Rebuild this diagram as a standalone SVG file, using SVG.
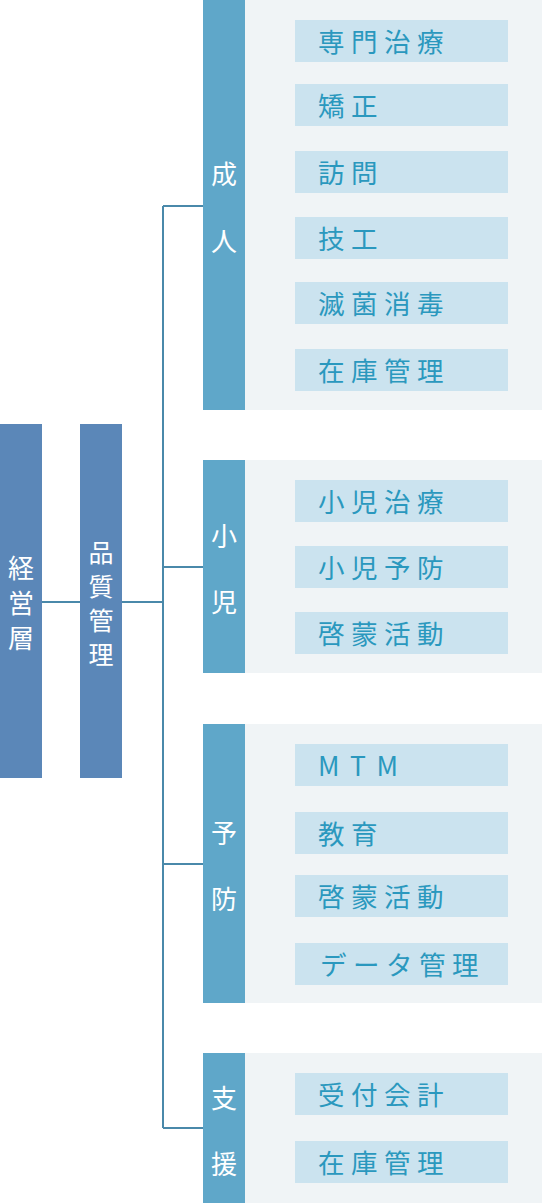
<svg xmlns="http://www.w3.org/2000/svg" width="542" height="1203" viewBox="0 0 542 1203">
<style>
.top{fill:#5b87b8}
.bar{fill:#5fa7c9}
.bg{fill:#f0f4f6}
.item{fill:#cbe3ef}
.wt{fill:#ffffff;font-family:"Noto Sans CJK JP","Noto Sans",sans-serif;font-size:26px;text-anchor:middle;dominant-baseline:central}
.it{fill:#2a98be;font-family:"Noto Sans CJK JP","Noto Sans",sans-serif;font-size:26.5px;letter-spacing:6.5px;dominant-baseline:central}
.ln{stroke:#4a89aa;stroke-width:2;fill:none}
</style>
<rect width="542" height="1203" fill="#ffffff"/>
<g id="connectors">
<path class="ln" d="M42 602H80M122 602H163M163 206V1128M163 206H203M163 567H203M163 864H203M163 1128H203"/>
<path class="ln" d="M245 207H275M275 41V370M275 41H295M275 105H295M275 172H295M275 238H295M275 303H295M275 370H295"/>
<path class="ln" d="M245 567H275M275 501V633M275 501H295M275 567H295M275 633H295"/>
<path class="ln" d="M245 865H275M275 765V964M275 765H295M275 833H295M275 896H295M275 964H295"/>
<path class="ln" d="M245 1128H275M275 1094V1162M275 1094H295M275 1162H295"/>
</g>
<g id="keiei">
<rect class="top" x="0" y="424" width="42" height="354"/>
<text class="wt"><tspan x="21" y="566">経</tspan><tspan x="21" y="601">営</tspan><tspan x="21" y="636">層</tspan></text>
</g>
<g id="hinshitsu">
<rect class="top" x="80" y="424" width="42" height="354"/>
<text class="wt" style="font-size:25px"><tspan x="101" y="551">品</tspan><tspan x="101" y="585">質</tspan><tspan x="101" y="619">管</tspan><tspan x="101" y="653">理</tspan></text>
</g>
<g id="seijin">
<rect class="bg" x="245" y="0" width="297" height="410"/>
<rect class="bar" x="203" y="0" width="42" height="410"/>
<text class="wt"><tspan x="224" y="172">成</tspan><tspan x="224" y="239">人</tspan></text>
</g>
<g id="seijin-items">
<rect class="item" x="295" y="20" width="213" height="42"/><text class="it" x="318" y="40">専門治療</text>
<rect class="item" x="295" y="84" width="213" height="42"/><text class="it" x="318" y="104">矯正</text>
<rect class="item" x="295" y="151" width="213" height="42"/><text class="it" x="318" y="171">訪問</text>
<rect class="item" x="295" y="217" width="213" height="42"/><text class="it" x="318" y="237">技工</text>
<rect class="item" x="295" y="282" width="213" height="42"/><text class="it" x="318" y="302">滅菌消毒</text>
<rect class="item" x="295" y="349" width="213" height="42"/><text class="it" x="318" y="369">在庫管理</text>
</g>
<g id="shoni">
<rect class="bg" x="245" y="460" width="297" height="213"/>
<rect class="bar" x="203" y="460" width="42" height="213"/>
<text class="wt"><tspan x="224" y="534">小</tspan><tspan x="224" y="600">児</tspan></text>
</g>
<g id="shoni-items">
<rect class="item" x="295" y="480" width="213" height="42"/><text class="it" x="318" y="500">小児治療</text>
<rect class="item" x="295" y="546" width="213" height="42"/><text class="it" x="318" y="566">小児予防</text>
<rect class="item" x="295" y="612" width="213" height="42"/><text class="it" x="318" y="632">啓蒙活動</text>
</g>
<g id="yobo">
<rect class="bg" x="245" y="724" width="297" height="279"/>
<rect class="bar" x="203" y="724" width="42" height="279"/>
<text class="wt"><tspan x="224" y="831">予</tspan><tspan x="224" y="897">防</tspan></text>
</g>
<g id="yobo-items">
<rect class="item" x="295" y="744" width="213" height="42"/><text class="it" x="318" y="764" style="letter-spacing:10.5px">MTM</text>
<rect class="item" x="295" y="812" width="213" height="42"/><text class="it" x="318" y="832">教育</text>
<rect class="item" x="295" y="875" width="213" height="42"/><text class="it" x="318" y="895">啓蒙活動</text>
<rect class="item" x="295" y="943" width="213" height="42"/><text class="it" x="320" y="963">データ管理</text>
</g>
<g id="shien">
<rect class="bg" x="245" y="1053" width="297" height="150"/>
<rect class="bar" x="203" y="1053" width="42" height="150"/>
<text class="wt"><tspan x="224" y="1096">支</tspan><tspan x="224" y="1162">援</tspan></text>
</g>
<g id="shien-items">
<rect class="item" x="295" y="1073" width="213" height="42"/><text class="it" x="318" y="1093">受付会計</text>
<rect class="item" x="295" y="1141" width="213" height="42"/><text class="it" x="318" y="1161">在庫管理</text>
</g>
</svg>
